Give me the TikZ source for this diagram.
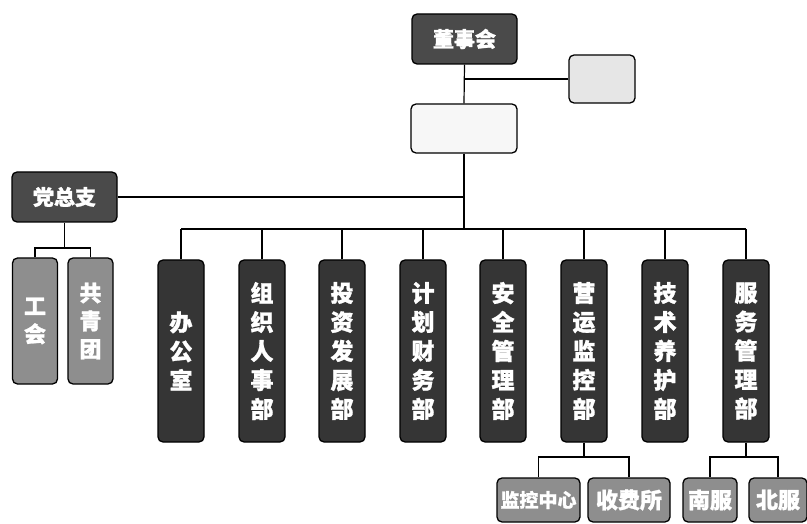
\documentclass[tikz,border=0pt]{standalone}
\usepackage{fontspec}
\newfontfamily\cjk{Noto Sans CJK SC}[BoldFeatures={FakeBold=1.2}]
\definecolor{deptc}{HTML}{353535}
\definecolor{topc}{HTML}{4A4A4A}
\definecolor{subc}{HTML}{8E8E8E}
\definecolor{lightc}{HTML}{E6E6E6}
\definecolor{paler}{HTML}{F7F7F7}
\tikzset{
  bx/.style={draw=black, line width=1.3pt, rounded corners=5pt, inner sep=0pt, text=white, align=center},
  dept/.style={bx, fill=deptc, minimum width=46pt, minimum height=182pt, font=\cjk\bfseries\fontsize{23}{29}\selectfont},
  topbox/.style={bx, fill=topc, minimum width=105pt, minimum height=50pt, font=\cjk\bfseries\fontsize{21}{25}\selectfont},
  blank/.style={bx, minimum height=49pt},
  party/.style={bx, fill=subc, minimum width=45pt, minimum height=126pt, font=\cjk\bfseries\fontsize{22}{28}\selectfont},
  sub/.style={bx, fill=subc, minimum height=44pt, font=\cjk\bfseries\fontsize{22}{25}\selectfont},
  wire/.style={draw=black, line width=1.2pt}
}
\begin{document}
\begin{tikzpicture}[x=1pt, y=-1pt]
\useasboundingbox (0,0) rectangle (807,524);
% top
\node[topbox] (dsh) at (464.5,39) {董事会};
\node[blank, fill=lightc, minimum width=66pt, minimum height=48pt] (rbox) at (602,79) {};
\node[blank, fill=paler, minimum width=106pt] (mid) at (464,128.5) {};
\node[topbox] (dz) at (64.5,197) {党总支};
% party subs
\node[party] (gh) at (35,321) {工\\会};
\node[party] (gqt) at (90.5,321) {共\\青\\团};
% departments
\node[dept] (d1) at (181,351) {办\\公\\室};
\node[dept] (d2) at (262,351) {组\\织\\人\\事\\部};
\node[dept] (d3) at (342,351) {投\\资\\发\\展\\部};
\node[dept] (d4) at (423,351) {计\\划\\财\\务\\部};
\node[dept] (d5) at (503,351) {安\\全\\管\\理\\部};
\node[dept] (d6) at (584,351) {营\\运\\监\\控\\部};
\node[dept] (d7) at (665,351) {技\\术\\养\\护\\部};
\node[dept] (d8) at (746,351) {服\\务\\管\\理\\部};
% lower subs
\node[sub, minimum width=83pt, font=\cjk\bfseries\fontsize{19}{22}\selectfont] (jk) at (538.5,500) {监控中心};
\node[sub, minimum width=82pt] (sf) at (629,500) {收费所};
\node[sub, minimum width=54pt] (nf) at (710,500) {南服};
\node[sub, minimum width=58pt] (bf) at (778,500) {北服};
% coordinates
\coordinate (bus) at (464,229);
\coordinate (pz) at (64.5,248);
\coordinate (s1) at (584,457);
\coordinate (s2) at (746,457);
% connectors
\draw[wire] (dsh.south) -- (mid.north);
\draw[wire] (dsh.south |- rbox.west) -- (rbox.west);
\draw[wire] (mid.south) -- (bus);
\draw[wire] (dz.east) -- (dz.east -| bus);
\draw[wire] (d1.north |- bus) -- (d8.north |- bus);
\foreach \d in {d1,d2,d3,d4,d5,d6,d7,d8} {
  \draw[wire] (\d.north) -- (\d.north |- bus);
}
\draw[wire] (dz.south) -- (pz);
\draw[wire] (gh.north) |- (pz);
\draw[wire] (gqt.north) |- (pz);
\draw[wire] (d6.south) -- (s1);
\draw[wire] (jk.north) |- (s1);
\draw[wire] (sf.north) |- (s1);
\draw[wire] (d8.south) -- (s2);
\draw[wire] (nf.north) |- (s2);
\draw[wire] (bf.north) |- (s2);
\end{tikzpicture}
\end{document}
